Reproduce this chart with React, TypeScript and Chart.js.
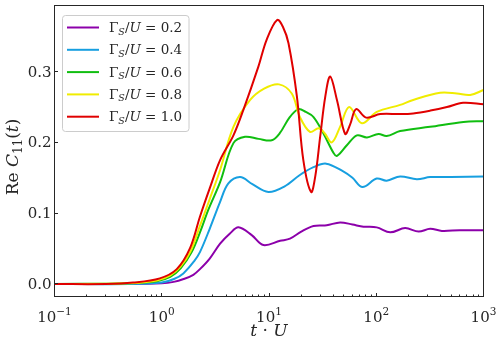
import React, { useEffect, useRef } from "react";
import { Chart, registerables } from "chart.js";

Chart.register(...registerables);

// ---- data ----
const seriesLabels = ["0.2", "0.4", "0.6", "0.8", "1.0"];
const seriesColors = ["#8c00aa", "#179fe0", "#10be10", "#f0ec00", "#e00000"];

const tPurple = [0.1, 0.5, 1.0, 1.29, 1.6, 1.97, 2.27, 2.8, 3.5, 4.3, 5.19, 6.9, 8.87, 12.7, 15.7, 20, 26, 34.5, 46, 60, 76, 101, 135, 186, 248, 318, 409, 600, 1000];
const vPurple = [0, 0, 0.001, 0.003, 0.007, 0.013, 0.021, 0.036, 0.057, 0.071, 0.08, 0.069, 0.055, 0.061, 0.064, 0.074, 0.082, 0.083, 0.087, 0.084, 0.081, 0.08, 0.073, 0.079, 0.074, 0.078, 0.075, 0.076, 0.076];

const tBlue = [0.1, 0.5, 1.0, 1.3, 1.59, 2.0, 2.27, 2.8, 3.5, 4.18, 5.38, 7.0, 9.86, 14, 19.4, 26, 34.1, 49.2, 60, 74.4, 101, 125, 167, 239, 318, 500, 1000];
const vBlue = [0, 0, 0.002, 0.007, 0.015, 0.032, 0.045, 0.078, 0.116, 0.142, 0.151, 0.141, 0.13, 0.138, 0.154, 0.165, 0.17, 0.159, 0.15, 0.137, 0.149, 0.146, 0.152, 0.148, 0.151, 0.151, 0.152];

const tGreen = [0.1, 0.5, 0.9, 1.2, 1.5, 1.9, 2.3, 2.72, 3.5, 4.66, 5.98, 8, 10.6, 12.6, 15.5, 18.8, 22, 25.9, 32.1, 40, 43, 53.2, 66, 82, 105, 125, 167, 318, 650, 1000];
const vGreen = [0, 0.001, 0.004, 0.01, 0.022, 0.045, 0.075, 0.105, 0.144, 0.199, 0.208, 0.205, 0.203, 0.213, 0.235, 0.247, 0.243, 0.236, 0.213, 0.185, 0.181, 0.196, 0.21, 0.207, 0.212, 0.209, 0.216, 0.222, 0.229, 0.23];

const tYellow = [0.1, 0.5, 0.9, 1.2, 1.5, 1.84, 2.27, 2.8, 3.5, 4.66, 6.67, 9, 12.4, 16.3, 19.4, 24.1, 29, 33, 38.5, 46, 55.9, 73.5, 101, 167, 221, 394, 565, 751, 1000];
const vYellow = [0, 0.001, 0.005, 0.012, 0.025, 0.045, 0.082, 0.12, 0.161, 0.222, 0.26, 0.276, 0.282, 0.269, 0.236, 0.215, 0.22, 0.213, 0.2, 0.222, 0.25, 0.227, 0.243, 0.253, 0.26, 0.27, 0.269, 0.267, 0.274];

const tRed = [0.1, 0.3, 0.54, 0.96, 1.38, 1.84, 2.27, 2.8, 3.5, 4.66, 5.77, 7.96, 9.5, 11.9, 13.5, 15.2, 18.2, 20.9, 24.7, 27, 30, 33.5, 37.2, 43, 51.3, 57, 64.9, 80.5, 109, 167, 221, 320, 456, 646, 1000];
const vRed = [0, 0, 0.002, 0.008, 0.021, 0.051, 0.095, 0.135, 0.175, 0.21, 0.246, 0.307, 0.345, 0.373, 0.363, 0.34, 0.265, 0.175, 0.13, 0.152, 0.208, 0.265, 0.293, 0.26, 0.212, 0.225, 0.247, 0.235, 0.24, 0.24, 0.241, 0.245, 0.25, 0.256, 0.254];

const xTickValues = [0.1, 1, 10, 100, 1000];
const xTickExponents = ["\u22121", "0", "1", "2", "3"];
const yTickValues = [0.0, 0.1, 0.2, 0.3];
const yTickLabels = ["0.0", "0.1", "0.2", "0.3"];

const SERIF = "'DejaVu Serif', serif";

type Seg = { text: string; font: string; dy?: number };

function drawSegs(ctx: CanvasRenderingContext2D, segs: Seg[], x: number, y: number, align: "left" | "center") {
  let total = 0;
  for (const s of segs) {
    ctx.font = s.font;
    total += ctx.measureText(s.text).width;
  }
  let cx = align === "center" ? x - total / 2 : x;
  ctx.textAlign = "left";
  for (const s of segs) {
    ctx.font = s.font;
    ctx.fillText(s.text, cx, y + (s.dy || 0));
    cx += ctx.measureText(s.text).width;
  }
}

const decorPlugin = {
  id: "decor",
  afterDraw(chart: any) {
    const ctx: CanvasRenderingContext2D = chart.ctx;
    const { left, right, top, bottom } = chart.chartArea;
    const xs = chart.scales.x;
    const ys = chart.scales.y;
    ctx.save();
    ctx.strokeStyle = "#262626";
    ctx.fillStyle = "#262626";
    ctx.lineWidth = 1;
    // frame
    ctx.strokeRect(left, top, right - left, bottom - top);
    // x ticks (major + minor), inward
    ctx.beginPath();
    for (let e = -1; e <= 3; e++) {
      for (let m = 1; m <= 9; m++) {
        const v = m * Math.pow(10, e);
        if (v > 1000.0001) continue;
        const px = Math.round(xs.getPixelForValue(v) - 0.5) + 0.5;
        const len = m === 1 ? 3.5 : 2;
        ctx.moveTo(px, bottom);
        ctx.lineTo(px, bottom - len);
      }
    }
    // y ticks
    for (const v of yTickValues) {
      const py = Math.round(ys.getPixelForValue(v) - 0.5) + 0.5;
      ctx.moveTo(left, py);
      ctx.lineTo(left + 3.5, py);
    }
    ctx.stroke();

    // y tick labels
    ctx.textBaseline = "middle";
    ctx.textAlign = "right";
    ctx.font = `15px ${SERIF}`;
    yTickValues.forEach((v, i) => {
      ctx.fillText(yTickLabels[i], left - 3, ys.getPixelForValue(v) + 1);
    });

    // x tick labels 10^n
    ctx.textBaseline = "alphabetic";
    xTickValues.forEach((v, i) => {
      const px = xs.getPixelForValue(v);
      drawSegs(ctx, [
        { text: "10", font: `15px ${SERIF}` },
        { text: xTickExponents[i], font: `10.5px ${SERIF}`, dy: -7 },
      ], px, 321.5, "center");
    });

    // x title
    drawSegs(ctx, [
      { text: "t", font: `italic 17px ${SERIF}` },
      { text: " \u00b7 ", font: `17px ${SERIF}` },
      { text: "U", font: `italic 17px ${SERIF}` },
    ], (left + right) / 2, 336, "center");

    // y title (rotated)
    ctx.save();
    ctx.translate(18, (top + bottom) / 2 + 6);
    ctx.rotate(-Math.PI / 2);
    drawSegs(ctx, [
      { text: "Re ", font: `17px ${SERIF}` },
      { text: "C", font: `italic 17px ${SERIF}` },
      { text: "11", font: `12px ${SERIF}`, dy: 4 },
      { text: "(", font: `17px ${SERIF}` },
      { text: "t", font: `italic 17px ${SERIF}` },
      { text: ")", font: `17px ${SERIF}` },
    ], 0, 0, "center");
    ctx.restore();

    // legend
    const lx = 62.5, ly = 15.5, lw = 126.5, lh = 116;
    ctx.beginPath();
    const r = 3;
    ctx.moveTo(lx + r, ly);
    ctx.arcTo(lx + lw, ly, lx + lw, ly + lh, r);
    ctx.arcTo(lx + lw, ly + lh, lx, ly + lh, r);
    ctx.arcTo(lx, ly + lh, lx, ly, r);
    ctx.arcTo(lx, ly, lx + lw, ly, r);
    ctx.closePath();
    ctx.fillStyle = "rgba(255,255,255,0.85)";
    ctx.fill();
    ctx.strokeStyle = "#cccccc";
    ctx.stroke();
    seriesLabels.forEach((lab, i) => {
      const cy = 27.5 + i * 22.3;
      ctx.beginPath();
      ctx.strokeStyle = seriesColors[i];
      ctx.lineWidth = 2;
      ctx.moveTo(67, cy);
      ctx.lineTo(99, cy);
      ctx.stroke();
      ctx.fillStyle = "#262626";
      ctx.textBaseline = "alphabetic";
      drawSegs(ctx, [
        { text: "\u0393", font: `13.5px ${SERIF}` },
        { text: "S", font: `italic 9.5px ${SERIF}`, dy: 2.5 },
        { text: "/", font: `13.5px ${SERIF}` },
        { text: "U", font: `italic 13.5px ${SERIF}` },
        { text: " = " + lab, font: `13.5px ${SERIF}` },
      ], 109, cy + 4.5, "left");
    });
    ctx.restore();
  },
};

export default function App() {
  const ref = useRef<HTMLCanvasElement | null>(null);
  useEffect(() => {
    document.body.style.margin = "0";
    const canvas = ref.current!;
    const mk = (t: number[], v: number[]) => t.map((x, i) => ({ x, y: v[i] }));
    const all = [
      mk(tPurple, vPurple),
      mk(tBlue, vBlue),
      mk(tGreen, vGreen),
      mk(tYellow, vYellow),
      mk(tRed, vRed),
    ];
    const chart = new Chart(canvas, {
      type: "line",
      data: {
        datasets: all.map((d, i) => ({
          label: seriesLabels[i],
          data: d,
          borderColor: seriesColors[i],
          backgroundColor: seriesColors[i],
          borderWidth: 2,
          pointRadius: 0,
          fill: false,
          tension: 0.35,
          order: 5 - i,
        })),
      },
      options: {
        responsive: false,
        animation: false,
        devicePixelRatio: 1,
        layout: { padding: { left: 54.5, top: 5.5, right: 14.5, bottom: 51.5 } },
        plugins: { legend: { display: false }, tooltip: { enabled: false } },
        scales: {
          x: {
            type: "logarithmic",
            display: false,
            min: 0.1,
            max: 1000,
          },
          y: {
            type: "linear",
            display: false,
            min: -0.01766,
            max: 0.3934,
          },
        },
      },
      plugins: [decorPlugin],
    });
    return () => chart.destroy();
  }, []);
  return <canvas ref={ref} width={498} height={348} style={{ display: "block" }} />;
}
